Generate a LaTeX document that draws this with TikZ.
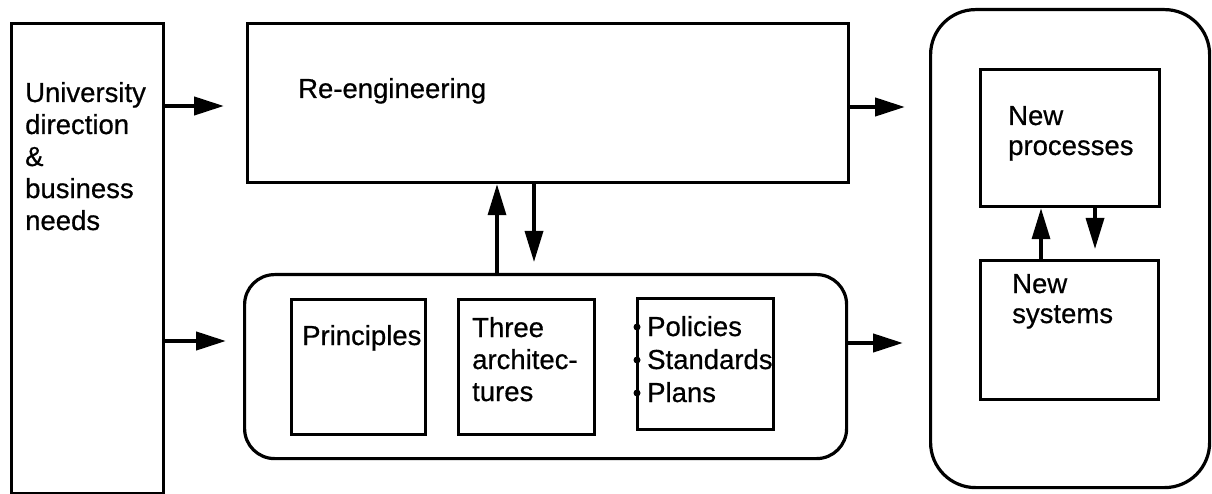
\documentclass[tikz,border=0pt]{standalone}
\usepackage{fontspec}
\setmainfont[FakeBold=0.6,AutoFakeBold=0.6]{Liberation Sans}
\usetikzlibrary{arrows.meta}
\begin{document}
\begin{tikzpicture}[x=1pt,y=-1pt,
  box/.style={draw, line width=3.2pt, inner sep=0pt, anchor=north west},
  txt/.style={font=\fontsize{27.5}{32}\selectfont\bfseries, anchor=base west, inner sep=0pt, align=left},
  arr/.style={line width=4.2pt, -{Triangle[length=30pt,width=18pt]}},
  varr/.style={line width=3.4pt, -{Triangle[length=31pt,width=18pt]}},
  dot/.style={circle, fill, inner sep=0pt, minimum size=7pt},
]
\useasboundingbox (0,0) rectangle (1212,494);
% boxes
\node[box, minimum width=152pt, minimum height=470pt] (left) at (10,22) {};
\node[box, minimum width=601pt, minimum height=159pt] (re) at (246,22) {};
\node[box, rounded corners=30pt, minimum width=602pt, minimum height=184pt] (mid) at (243,273) {};
\node[box, minimum width=134pt, minimum height=135pt] (pr) at (290,298) {};
\node[box, minimum width=136pt, minimum height=135pt] (th) at (457,298) {};
\node[box, minimum width=136pt, minimum height=131pt] (po) at (636,297) {};
\node[box, rounded corners=45pt, minimum width=279pt, minimum height=478pt] (right) at (929,8) {};
\node[box, minimum width=179pt, minimum height=137pt] (np) at (979,68) {};
\node[box, minimum width=178pt, minimum height=139pt] (ns) at (979,259) {};
% texts (anchor = baseline of the last line)
\node[txt] (tl) at (25,230) {University\\direction\\\&\\business\\needs};
\node[txt] (tre) at (298,98) {Re-engineering};
\node[txt] (tpr) at (302,345) {Principles};
\node[txt] (tth) at (472,401) {Three\\architec-\\tures};
\node[txt, font=\fontsize{27.5}{33}\selectfont\bfseries] (tpo) at (647,402) {Policies\\Standards\\Plans};
\node[dot] (d1) at (637,327) {};
\node[dot] (d2) at (637,360) {};
\node[dot] (d3) at (637,393) {};
\node[txt, font=\fontsize{27.5}{30}\selectfont\bfseries] (tnp) at (1008,155) {New\\processes};
\node[txt, font=\fontsize{27.5}{30}\selectfont\bfseries] (tns) at (1012,323) {New\\systems};
% arrow ends
\coordinate (a1) at (224,106);
\coordinate (a2) at (226,341);
\coordinate (a3) at (905,107);
\coordinate (a4) at (903,343);
\coordinate (u1) at (497,189);
\coordinate (d1e) at (534,262);
\coordinate (u2) at (1041,205);
\coordinate (d2e) at (1095,249);
% arrows
\draw[arr] (left.east |- a1) -- (a1);
\draw[arr] (left.east |- a2) -- (a2);
\draw[arr] (re.east |- a3) -- (a3);
\draw[arr] (mid.east |- a4) -- (a4);
\draw[varr] (mid.north -| u1) -- (re.south -| u1);
\draw[varr] (re.south -| d1e) -- (d1e);
\draw[varr] (ns.north -| u2) -- (np.south -| u2);
\draw[varr] (np.south -| d2e) -- (d2e);
\end{tikzpicture}
\end{document}
